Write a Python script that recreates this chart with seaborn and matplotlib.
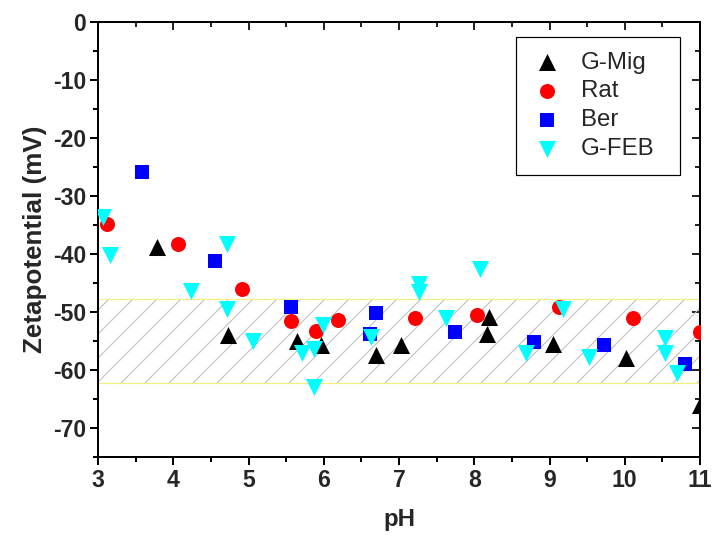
import matplotlib
matplotlib.use("Agg")
import matplotlib.pyplot as plt
from matplotlib.ticker import MultipleLocator
import seaborn as sns

# ---- data ----
gmig_ph = [3.78, 4.73, 5.64, 5.96, 6.70, 7.02, 8.17, 8.19, 9.05, 10.01, 11.0]
gmig_mv = [-38.8, -54.0, -55.0, -55.7, -57.4, -55.7, -53.8, -50.8, -55.6, -58.0, -66.0]

rat_ph = [3.12, 4.06, 4.91, 5.57, 5.90, 6.19, 7.21, 8.03, 9.12, 10.11, 11.0]
rat_mv = [-34.8, -38.3, -46.1, -51.6, -53.3, -51.3, -51.0, -50.5, -49.1, -51.1, -53.4]

ber_ph = [3.58, 4.55, 5.57, 6.61, 6.70, 7.74, 8.79, 9.72, 10.80]
ber_mv = [-25.9, -41.2, -49.1, -53.8, -50.1, -53.5, -55.2, -55.7, -59.0]

gfeb_ph = [3.07, 3.16, 4.24, 4.71, 4.71, 5.06, 5.71, 5.87, 5.87, 5.99, 6.63,
           7.26, 7.26, 7.63, 8.07, 8.69, 9.18, 9.52, 10.53, 10.53, 10.69]
gfeb_mv = [-33.6, -40.2, -46.3, -38.3, -49.5, -55.0, -57.0, -56.3, -63.0, -52.2, -54.3,
           -45.1, -46.5, -51.1, -42.5, -57.1, -49.4, -57.7, -54.5, -57.1, -60.6]

band_range = [-62.2, -47.7]
x_ticks = [3, 4, 5, 6, 7, 8, 9, 10, 11]
y_ticks = [0, -10, -20, -30, -40, -50, -60, -70]

# ---- style ----
sns.set_style("ticks")
plt.rcParams['font.family'] = ['Liberation Sans', 'DejaVu Sans']
plt.rcParams['axes.unicode_minus'] = False
plt.rcParams['hatch.linewidth'] = 1.1

DPI = 72
fig = plt.figure(figsize=(712 / DPI, 538 / DPI), dpi=DPI)
ax = fig.add_axes([98 / 712, 1 - 457 / 538, 602 / 712, 435 / 538])

# hatched band
ax.axhspan(band_range[0], band_range[1], facecolor='none', edgecolor='#c0c0c0',
           hatch='/', linewidth=0, zorder=0.5)
ax.axhspan(band_range[0], band_range[1], facecolor='none', edgecolor='#f3ee80',
           linewidth=1.2, zorder=0.6)

sns.scatterplot(x=rat_ph, y=rat_mv, marker='o', color='#ff0000', s=225,
                linewidth=0, label='Rat', ax=ax, zorder=3)
sns.scatterplot(x=ber_ph, y=ber_mv, marker='s', color='#0000ff', s=196,
                linewidth=0, label='Ber', ax=ax, zorder=3)
sns.scatterplot(x=gmig_ph, y=gmig_mv, marker='^', color='black', s=290,
                linewidth=0, label='G-Mig', ax=ax, zorder=3)
sns.scatterplot(x=gfeb_ph, y=gfeb_mv, marker='v', color='#00ffff', s=290,
                linewidth=0, label='G-FEB', ax=ax, zorder=3)

ax.set_xlim(3, 11)
ax.set_ylim(-75, 0)
ax.set_xticks(x_ticks)
ax.set_yticks(y_ticks)
ax.xaxis.set_minor_locator(MultipleLocator(0.5))
ax.yaxis.set_minor_locator(MultipleLocator(5))

for sp in ax.spines.values():
    sp.set_visible(True)
    sp.set_linewidth(2)
    sp.set_color('black')

ax.tick_params(which='major', direction='out', length=8, width=2, labelsize=23,
               color='black', pad=4)
ax.tick_params(which='minor', direction='out', length=5, width=2, color='black')
for lab in ax.get_xticklabels() + ax.get_yticklabels():
    lab.set_fontweight('bold')

# mirrored inward ticks on top/right
secx = ax.secondary_xaxis('top')
secx.set_xticks(x_ticks)
secx.xaxis.set_minor_locator(MultipleLocator(0.5))
secx.tick_params(which='major', direction='in', length=8, width=2, labeltop=False)
secx.tick_params(which='minor', direction='in', length=5, width=2)
secx.spines['top'].set_linewidth(2)
secy = ax.secondary_yaxis('right')
secy.set_yticks(y_ticks)
secy.yaxis.set_minor_locator(MultipleLocator(5))
secy.tick_params(which='major', direction='in', length=8, width=2, labelright=False)
secy.tick_params(which='minor', direction='in', length=5, width=2)
secy.spines['right'].set_linewidth(2)

ax.set_xlabel('pH', fontsize=24, fontweight='bold', labelpad=16)
ax.set_ylabel('Zetapotential (mV)', fontsize=26, fontweight='bold', labelpad=6)

handles, labels = ax.get_legend_handles_labels()
order = ['G-Mig', 'Rat', 'Ber', 'G-FEB']
hmap = dict(zip(labels, handles))
leg = ax.legend([hmap[k] for k in order], order, loc='upper left',
                bbox_to_anchor=(0.6944, 0.5, 0.2724, 0.466), mode='expand',
                borderaxespad=0, fontsize=24,
                frameon=True, fancybox=False, edgecolor='black', framealpha=1,
                handletextpad=0.71, borderpad=0.62, labelspacing=0.28,
                handlelength=1.36)
leg.get_frame().set_linewidth(1.2)

fig.savefig('out.png', dpi=DPI)
